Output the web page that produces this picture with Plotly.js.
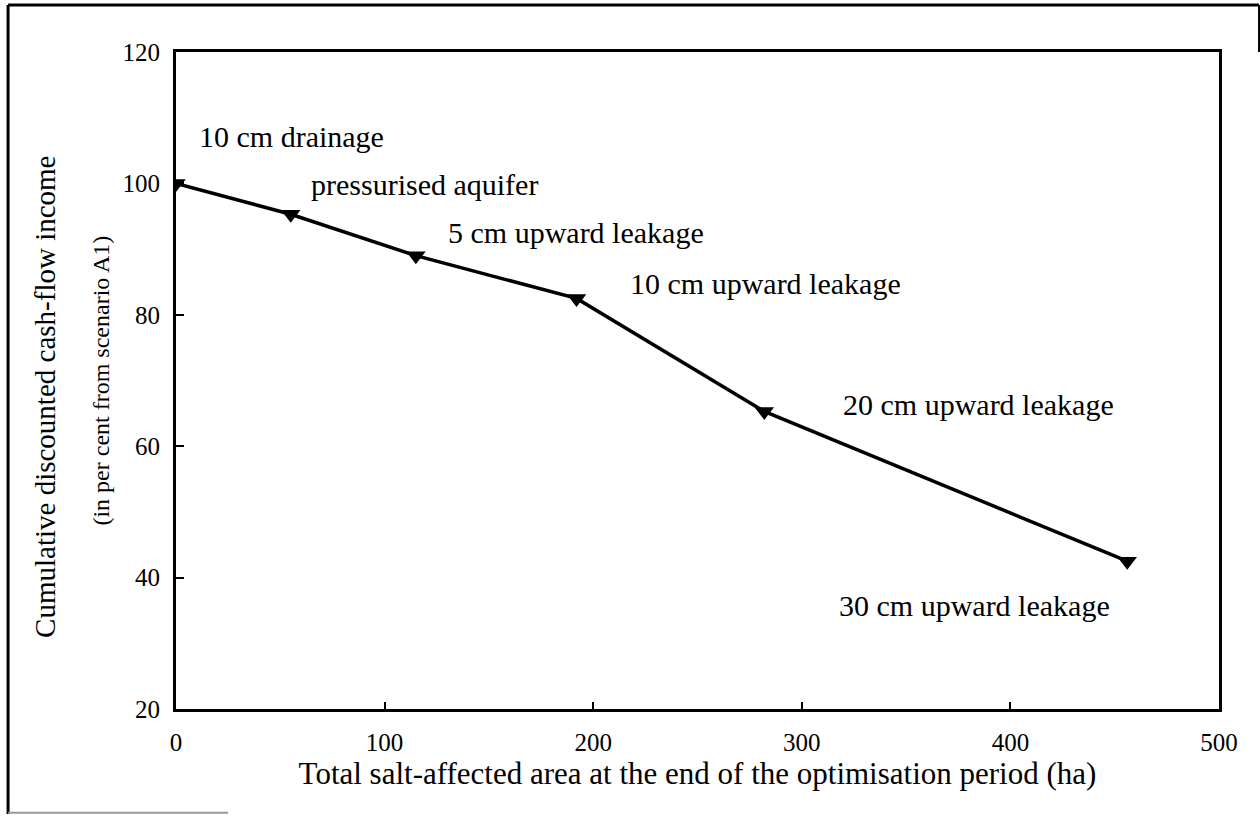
<!DOCTYPE html>
<html>
<head>
<meta charset="utf-8">
<script src="https://cdn.plot.ly/plotly-3.0.1.min.js"></script>
<style>html,body{margin:0;padding:0;background:#fff;}#chart{width:1260px;height:816px;}</style>
</head>
<body>
<div id="chart"></div>
<script>
// Data
const areaHa = [0, 55, 115, 192, 282, 456];
const incomePct = [100, 95.3, 89, 82.5, 65.3, 42.5];
const scenarioLabels = ["10 cm drainage", "pressurised aquifer", "5 cm upward leakage",
  "10 cm upward leakage", "20 cm upward leakage", "30 cm upward leakage"];
const xTickVals = [0, 100, 200, 300, 400, 500];
const yTickVals = [20, 40, 60, 80, 100, 120];
const xTitle = "Total salt-affected area at the end of the optimisation period (ha)";
const yTitleMain = "Cumulative discounted cash-flow income";
const yTitleSub = "(in per cent from scenario A1)";

// label placement (layout only)
const labelPos = [[55.6, 107.2], [118.9, 99.8], [191.8, 92.6], [282.8, 84.7], [384.5, 66.4], [383, 35.8]];

const FONT = "'Liberation Serif', 'Times New Roman', serif";

const trace = {
  x: areaHa, y: incomePct, type: "scatter", mode: "lines+markers",
  line: {color: "#000", width: 3.5},
  marker: {symbol: "triangle-down", size: 17, color: "#000"},
  hoverinfo: "skip"
};

const annotations = scenarioLabels.map((t, i) => ({
  x: labelPos[i][0], y: labelPos[i][1], xref: "x", yref: "y",
  text: t, showarrow: false, xanchor: "center", yanchor: "middle",
  font: {family: FONT, size: 30, color: "#000"}
}));
annotations.push({
  xref: "paper", yref: "paper", x: -0.1256, y: 0.475, text: yTitleMain,
  textangle: -90, showarrow: false, xanchor: "center", yanchor: "middle",
  font: {family: FONT, size: 29, color: "#000"}
});
annotations.push({
  xref: "paper", yref: "paper", x: -0.0728, y: 0.5, text: yTitleSub,
  textangle: -90, showarrow: false, xanchor: "center", yanchor: "middle",
  font: {family: FONT, size: 24, color: "#000"}
});

const layout = {
  width: 1260, height: 816,
  margin: {l: 176, r: 41, t: 52, b: 107},
  paper_bgcolor: "#fff", plot_bgcolor: "#fff",
  showlegend: false,
  font: {family: FONT, color: "#000"},
  xaxis: {
    range: [0, 500], tickvals: xTickVals, ticktext: xTickVals.map(String),
    ticks: "inside", ticklen: 7, tickwidth: 2, tickcolor: "#000",
    showline: true, linecolor: "#000", linewidth: 3, mirror: true,
    showgrid: false, zeroline: false,
    tickfont: {family: FONT, size: 25, color: "#000"},
    ticklabelstandoff: 9,
    title: {text: xTitle, font: {family: FONT, size: 31, color: "#000"}, standoff: 8}
  },
  yaxis: {
    range: [20, 120], tickvals: yTickVals, ticktext: yTickVals.map(String),
    ticks: "inside", ticklen: 8, tickwidth: 2, tickcolor: "#000",
    showline: true, linecolor: "#000", linewidth: 3, mirror: true,
    showgrid: false, zeroline: false,
    tickfont: {family: FONT, size: 25, color: "#000"},
    ticklabelstandoff: 8
  },
  annotations: annotations,
  shapes: [
    {type: "line", xref: "paper", yref: "paper", x0: -0.161, x1: -0.161, y0: 1.0715, y1: -0.16, line: {color: "#000", width: 3}},
    {type: "line", xref: "paper", yref: "paper", x0: -0.161, x1: 1.0384, y0: 1.0715, y1: 1.0715, line: {color: "#000", width: 3}},
    {type: "line", xref: "paper", yref: "paper", x0: 1.0384, x1: 1.0384, y0: 1.0715, y1: 1.0, line: {color: "#000", width: 2}},
    {type: "line", xref: "paper", yref: "paper", x0: -0.161, x1: 0.05, y0: -0.158, y1: -0.158, line: {color: "#999", width: 2}}
  ]
};

Plotly.newPlot("chart", [trace], layout, {displayModeBar: false, staticPlot: true});
</script>
</body>
</html>
